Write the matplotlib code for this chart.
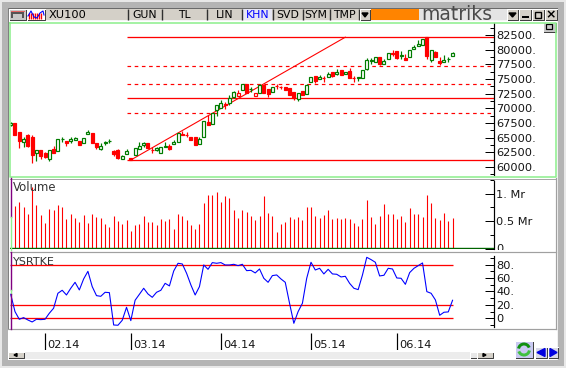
import matplotlib
matplotlib.use('Agg')
import matplotlib.pyplot as plt
from matplotlib.patches import Rectangle, Polygon, Arc

W, H = 566, 368

# index 0 .. 103, one trading day per candle
opens = [67170, 67510, 65970, 64270, 65460, 65120, 62300, 62900, 62440, 61370, 63070, 62780, 64750, 64380, 64440,
         64560, 64380, 64150, 65630, 65800, 64150, 63120, 64150, 64350, 62680, 62900, 61310, 62170, 61540, 62050,
         63120, 63700, 64150, 62920, 62900, 62340, 63360, 63630, 63870, 64320, 65630, 65480, 65120, 65070, 63980,
         65170, 67680, 67340, 69720, 70120, 70750, 70870, 71990, 72620, 73190, 74110, 73230, 72680, 72680, 74040,
         73260, 72850, 73840, 73620, 73700, 73430, 72740, 71600, 73020, 72450, 74500, 75580, 75060, 75150, 75400,
         76210, 75810, 76550, 75920, 76330, 75250, 75230, 75230, 76720, 78080, 77910, 78720, 77520, 78430, 79500,
         79790, 78890, 78600, 78820, 80080, 80690, 80860, 82180, 78250, 79620, 78130, 77960, 78350, 78990]
highs = [67680, 67510, 65970, 65120, 65630, 65460, 62900, 62900, 62600, 62900, 63580, 64780, 65170, 64380, 65030,
         65120, 64380, 64900, 66310, 65800, 64150, 64040, 64490, 64730, 62900, 63120, 62050, 63070, 61540, 63190,
         64320, 64270, 64150, 63360, 63410, 63360, 64270, 63920, 64610, 65750, 66190, 66020, 65120, 65070, 65170,
         67900, 68870, 69260, 70530, 71430, 71090, 72280, 73020, 73140, 74110, 74110, 73600, 72680, 74160, 74040,
         73260, 73700, 74110, 73820, 73700, 73430, 72740, 72570, 73020, 74160, 75350, 75580, 75700, 75520, 76210,
         76210, 76670, 76550, 76210, 76840, 75470, 75400, 76500, 78540, 78540, 78720, 78720, 78430, 79400, 79960,
         79790, 79840, 79280, 79960, 80760, 81670, 81840, 82180, 79960, 79790, 78770, 79110, 78720, 79670]
lows = [66990, 65460, 63240, 63410, 63400, 60730, 61020, 61420, 61500, 61020, 62440, 62780, 64320, 63630, 64150,
        64560, 63800, 64150, 65630, 64150, 63070, 62900, 63750, 64040, 61930, 61420, 61310, 62170, 61190, 62050,
        63120, 63460, 63190, 62440, 62730, 62340, 63360, 62900, 63870, 64320, 65460, 65070, 64610, 63750, 63980,
        65170, 67110, 67340, 68750, 70120, 69900, 70580, 71820, 72160, 73190, 72680, 72740, 72160, 72680, 72570,
        71890, 72850, 73310, 73260, 73140, 72280, 71430, 71260, 72280, 72450, 74500, 74380, 75060, 74550, 75400,
        75300, 75640, 75640, 75920, 75230, 74550, 74720, 75230, 76550, 77570, 77910, 77400, 77520, 78430, 78940,
        78480, 78480, 78250, 78820, 80080, 80690, 80860, 78370, 77960, 78820, 77400, 77960, 77860, 78990]
closes = [67510, 65460, 64440, 64780, 63580, 62050, 62900, 61880, 61760, 62900, 62440, 64780, 64800, 64150, 64780,
          64950, 63800, 64900, 65920, 64150, 63460, 63630, 64200, 64400, 62170, 61590, 61880, 62680, 61190, 63190,
          63580, 64040, 63190, 62880, 63190, 63360, 63580, 63120, 64270, 65750, 65510, 65440, 64610, 63750, 64780,
          67900, 67110, 69260, 70530, 70870, 70490, 71720, 72740, 72160, 74110, 72680, 73280, 72160, 73990, 72570,
          72450, 73700, 73800, 73580, 73140, 72280, 71720, 72570, 72280, 73990, 75350, 74720, 75300, 75110, 75870,
          75470, 76260, 75640, 76210, 75230, 75210, 75400, 76500, 78200, 78250, 78720, 77620, 78030, 79400, 79280,
          78650, 79110, 78250, 79960, 80470, 81040, 81840, 78940, 79960, 78820, 77690, 78200, 78400, 79400]
hollow_red = [53, 57]

volume = [float('nan'), .77, .85, .76, .63, 1.12, .79, .61, .47, .72, .70, .79, .76, .54, .63, .56, .48, .61, .46, .63,
          .57, .55, .45, .39, .59, .50, .45, .52, .32, .43, .45, .59, .48, .48, .43, .54, .50, .54, .35, .63,
          .59, .52, .43, .35, .45, .83, .98, .98, 1.03, .85, .96, .92, .70, .55, .70, .66, .59, .52, .59, .96,
          .65, .59, .30, .45, .48, .57, .54, .57, .52, .76, .76, .59, .55, .61, .70, .54, .55, .54, .55, .54,
          .46, .41, .54, .88, .57, .45, .59, .81, .63, .63, .54, .59, .48, .74, .63, .63, .57, .98, .83, .55,
          .52, .65, .50, .55]

ysrtke = [35.8, 10, -1.5, 1, -2.5, -5.5, -1.5, -2, -1.5, 7.5, 15, 37.3, 41.8, 34.8, 44.8, 53.7, 42.3, 58.7, 70.1, 47.3,
          33.8, 32.8, 38.8, 38.3, -10, -10.4, -3, 16.4, -3.5, 26.9, 35.8, 44.8, 36.3, 31.3, 38.8, 41.8, 52.2, 48.3,
          70.6, 82.1, 81.1, 67.2, 49.8, 34.8, 47.3, 79.6, 73.1, 83.1, 82.1, 83.1, 79.6, 79.6, 80.6, 78.6, 80.6, 71.1,
          71.6, 67.7, 73.6, 59.7, 53.7, 63.7, 64.7, 58.7, 53.7, 22.4, -7.5, 10, 22.4, 59.7, 83.6, 72.1, 74.6, 66.2,
          73.1, 66.2, 65.7, 61.7, 62.7, 52.2, 44.8, 42.8, 64.7, 91, 87.6, 83.6, 63.2, 64.2, 74.6, 73.6, 60.2, 59.7,
          50.7, 68.2, 74.6, 78.6, 82.6, 39.8, 37.3, 27.4, 4.5, 9, 9.5, 26.9]

price_ticks = [60000, 62500, 65000, 67500, 70000, 72500, 75000, 77500, 80000, 82500, 85000]
price_labels = ['60000.', '62500.', '65000.', '67500.', '70000.', '72500.', '75000.', '77500.', '80000.', '82500.', '85000.']
price_minor = [60000 + 1250 * k for k in range(-1, 20, 2)]
vol_ticks = [0, 0.5, 1]
vol_labels = ['0', '0.5 Mr', '1. Mr']
ysr_ticks = [0, 20, 40, 60, 80]
ysr_labels = ['0', '20.', '40.', '60.', '80.']
month_idx = [8, 28, 49, 70, 90]
month_labels = ['02.14', '03.14', '04.14', '05.14', '06.14']

solid_levels = [82130, 71690, 61140]
dashed_levels = [77180, 74070, 69130]
level_start = 27
trend_idx = [28, 78]
trend_val = [61190, 82130]
ysr_levels = [0, 20, 80]

RED = '#ff0000'
GREEN = '#007c00'
PX = 72 / 100
plt.rcParams['font.family'] = ['DejaVu Sans']
plt.rcParams['font.size'] = 8.2


def px_axes(x0, y0, x1, y1, **kw):
    return fig.add_axes([x0 / W, 1 - y1 / H, (x1 - x0) / W, (y1 - y0) / H], **kw)


def style_right(ax, major, labels, minor):
    for s in ['top', 'left', 'bottom']:
        ax.spines[s].set_visible(False)
    ax.spines['right'].set_linewidth(PX * 1.2)
    ax.yaxis.tick_right()
    ax.set_yticks(major)
    ax.set_yticklabels(labels, color='#151515')
    ax.set_yticks(minor, minor=True)
    ax.tick_params(axis='y', which='major', direction='in', length=9 * PX, width=PX, pad=2)
    ax.tick_params(axis='y', which='minor', direction='in', length=4 * PX, width=PX)
    ax.set_xticks([])
    ax.patch.set_alpha(0)


fig = plt.figure(figsize=(W / 100, H / 100), dpi=100, facecolor='white')

xlim = (-0.163, 112.59)
ax_p = px_axes(10, 23, 493.7, 177)
ax_v = px_axes(10, 178, 493.7, 248.5)
ax_y = px_axes(10, 252.5, 493.7, 329)
ax_d = px_axes(10, 333, 493.7, 350)

# price panel
style_right(ax_p, price_ticks, price_labels, price_minor)
for v in solid_levels:
    ax_p.hlines(v, level_start, xlim[1], color=RED, lw=PX * 1.3, zorder=2)
for v in dashed_levels:
    ax_p.hlines(v, level_start, xlim[1], color=RED, lw=PX * 1.2, linestyles=(0, (3, 3)), zorder=2)
ax_p.plot(trend_idx, trend_val, color=RED, lw=PX * 1.1, zorder=2)
for i in range(len(opens)):
    up = closes[i] >= opens[i]
    col = GREEN if up else RED
    ax_p.vlines(i, lows[i], highs[i], color=col, lw=PX * 1.2, zorder=3)
    face = 'white' if up or i in hollow_red else RED
    ax_p.bar(i, closes[i] - opens[i], bottom=opens[i], width=0.7, facecolor=face, edgecolor=col,
             linewidth=PX * 1.2, zorder=4)
ax_p.set_xlim(*xlim)
ax_p.set_ylim(58290, 84550)
ax_p.spines['right'].set_bounds(58640, 84550)

# volume panel
style_right(ax_v, vol_ticks, vol_labels, [0.25, 0.75, 1.25])
ax_v.vlines(range(len(volume)), 0, volume, color=RED, lw=PX * 1.1)
ax_v.axhline(0, color='#006400', lw=PX * 2.4, clip_on=True)
ax_v.text(0.007, 0.865, 'Volume', transform=ax_v.transAxes, color='#333333', size=8.4, va='center')
ax_v.set_xlim(*xlim)
ax_v.set_ylim(0, 1.287)
ax_v.spines['right'].set_bounds(0, 1.23)

# oscillator panel
style_right(ax_y, ysr_ticks, ysr_labels, [-10, 10, 30, 50, 70, 90])
for v in ysr_levels:
    ax_y.hlines(v, xlim[0], len(ysrtke) - 1, color=RED, lw=PX * 1.3, zorder=2)
ax_y.plot(range(len(ysrtke)), ysrtke, color='#0000ff', lw=PX * 1.1, zorder=3)
ax_y.text(0.007, 0.87, 'YSRTKE', transform=ax_y.transAxes, color='#333333', size=8, va='center')
ax_y.set_xlim(*xlim)
ax_y.set_ylim(-16, 98.2)
ax_y.spines['right'].set_bounds(-12.5, 93)

# month strip
ax_d.set_xlim(*xlim)
ax_d.set_ylim(0, 1)
ax_d.axis('off')
ax_d.vlines(month_idx, 0, 1, color='black', lw=PX * 1.2)
for i, lab in zip(month_idx, month_labels):
    ax_d.annotate(lab, (i, 0.3), xytext=(1.6, 0), textcoords='offset points', va='center', color='#151515',
                  size=8.2)

# window chrome on top, in pixel coordinates
ch = fig.add_axes([0, 0, 1, 1], zorder=10)
ch.set_xlim(0, W)
ch.set_ylim(H, 0)
ch.axis('off')
ch.patch.set_alpha(0)


def box(x0, y0, x1, y1, color, z=1, **kw):
    ch.add_patch(Rectangle((x0, y0), x1 - x0, y1 - y0, facecolor=color, edgecolor='none', zorder=z, **kw))


def button(x0, y0, x1, y1, color='#d4d0c8'):
    box(x0, y0, x1, y1, color, 2)
    ch.plot([x0, x1, x1], [y1, y1, y0], color='#404040', lw=PX, zorder=3)
    ch.plot([x0, x0, x1], [y1, y0, y0], color='white', lw=PX, zorder=3)


GRAY = '#b4b4b4'
box(0, 0, W, 2, '#e8e8e8')
box(0, 2, W, 8, GRAY)
box(0, 0, 1.5, H, '#e8e8e8')
box(1.5, 2, 8, 360, GRAY)
box(558, 2, 564, H, GRAY)
box(564, 0, W, H, '#e8e8e8')
box(1.5, 360, 564, 366, GRAY)
box(0, 366, W, H, '#e8e8e8')
box(556.5, 20, 558, 360, '#f2f2f2')
box(8, 8, 558, 9, '#6a6a6a')
box(8, 8, 9, 330, '#808080')

# white strips that crop the clipped axis labels
box(495, 20, 543, 22, 'white')
box(495, 250, 556, 254, 'white')

# toolbar
box(9, 9, 557, 20, '#d4d0c8')
box(9, 20, 557, 21, '#f5f5f5')
button(9, 9, 26, 20, '#c8c8c8')
box(11, 12, 24, 18, '#555555', 3)
box(13, 14, 22, 18, '#c8c8c8', 3)
ch.plot([11, 24], [10.5, 10.5], color=RED, lw=PX, ls=(0, (1, 1)), zorder=4)
button(27, 9, 45, 20, 'white')
ch.vlines([29, 31, 33, 35, 37, 39, 41], 13, 19, color=RED, lw=PX * 1.3, zorder=4)
ch.plot([28, 31, 34, 37, 40, 43, 44], [16, 11, 17, 18, 13, 11, 15], color='#0000ff', lw=PX * 1.1, zorder=4)
for x in [127.5, 162, 207, 242, 272.5, 302.5, 329.5, 359]:
    ch.vlines(x, 9, 20, color='#303030', lw=PX * 1.4, zorder=3)
ch.text(49, 15.2, 'XU100', size=8.2, va='center', color='black', zorder=5)
for x, lab in [(144.5, 'GUN'), (184.5, 'TL'), (224.5, 'LIN'), (287.5, 'SVD'), (316, 'SYM'), (344.5, 'TMP')]:
    ch.text(x, 15.2, lab, size=7.8, ha='center', va='center', color='black', zorder=5)
box(243, 9, 272, 20, '#e6e6f4', 2)
ch.text(257.5, 15.2, 'KHN', size=7.8, ha='center', va='center', color='#0000ff', zorder=5)
button(360, 9, 370, 20)
ch.add_patch(Polygon([(362, 13), (368, 13), (365, 17)], color='black', zorder=5))
box(371, 9, 419, 20, '#ff8400', 3)
box(419, 9, 507, 20, '#e4e4e4', 2)
ch.text(421, 14.2, 'matriks', size=13.5, va='center', color='#4a4a4a', zorder=5)
button(507, 9, 518, 20)
ch.add_patch(Polygon([(509, 13), (516, 13), (512.5, 17)], color='black', zorder=5))
button(519, 9, 531, 20)
box(522, 16, 529, 18, 'black', 5)
button(532, 9, 544, 20)
ch.add_patch(Rectangle((535, 11.5), 6, 6, facecolor='none', edgecolor='black', lw=PX * 1.4, zorder=5))
button(545, 9, 557, 20)
ch.text(551, 14.5, '×', size=9, weight='bold', ha='center', va='center', color='black', zorder=5)

# small maximize button in the panel corner
button(543, 22, 556, 32, '#c8c8c8')
ch.add_patch(Rectangle((546, 24), 6, 5, facecolor='none', edgecolor='black', lw=PX * 1.2, zorder=5))

# panel borders
LG = '#90f090'
ch.plot([10, 556, 556, 10, 10], [22.5, 22.5, 177, 177, 22.5], color=LG, lw=PX * 1.6, zorder=6)
ch.plot([10, 556], [178.5, 178.5], color='#a8a8a8', lw=PX, zorder=6)
ch.plot([10, 556], [252, 252], color='#a0a0a0', lw=PX * 1.2, zorder=6)
ch.plot([8, 556], [329, 329], color='#a0a0a0', lw=PX * 1.2, zorder=6)
ch.plot([556, 556], [178, 329], color='#a0a0a0', lw=PX * 1.2, zorder=6)
ch.plot([10.5, 10.5], [178, 217], color='#800080', lw=PX * 1.4, zorder=6)
ch.plot([10.5, 10.5], [217, 250], color=LG, lw=PX * 1.4, zorder=6)
ch.plot([10.5, 10.5], [252, 290], color='#800080', lw=PX * 1.4, zorder=6)
ch.plot([10.5, 10.5], [290, 294], color=LG, lw=PX * 1.4, zorder=6)
ch.plot([10.5, 10.5], [294, 329], color='#800080', lw=PX * 1.4, zorder=6)

# scroll bar and bottom buttons
box(24, 352, 477, 359, '#ececec')
button(8, 352, 24, 358)
ch.add_patch(Polygon([(14, 355), (17, 353.5), (17, 356.5)], color='black', zorder=5))
button(470, 352, 477, 358, '#e8e8e8')
button(477, 352, 493, 358)
ch.add_patch(Polygon([(483, 353.5), (483, 356.5), (486, 355)], color='black', zorder=5))
button(515, 341, 533, 358, '#c9c9f2')
ch.add_patch(Arc((524, 349.5), 11, 11, theta1=190, theta2=340, color='#109010', lw=PX * 3, zorder=5))
ch.add_patch(Arc((524, 349.5), 11, 11, theta1=10, theta2=160, color='#40c040', lw=PX * 3, zorder=5))
button(535, 347, 547, 358, '#d8d8e8')
ch.add_patch(Polygon([(537, 352.5), (545, 348.5), (545, 356.5)], color='#0000e0', zorder=5))
button(548, 347, 558, 358, '#d8d8e8')
ch.add_patch(Polygon([(550, 348.5), (550, 356.5), (557, 352.5)], color='#0000e0', zorder=5))

assert len(opens) == len(highs) == len(lows) == len(closes) == len(volume) == len(ysrtke) == 104
fig.savefig('out.png', dpi=100, facecolor='white')
